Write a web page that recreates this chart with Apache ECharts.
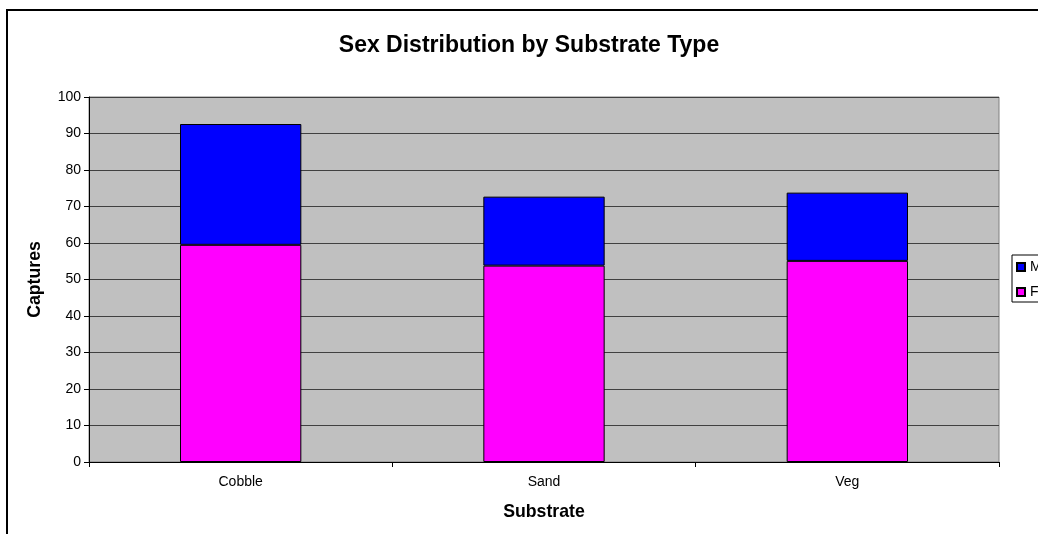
<!DOCTYPE html>
<html><head><meta charset="utf-8">
<script src="https://cdn.jsdelivr.net/npm/echarts@6/dist/echarts.min.js"></script>
<style>html,body{margin:0;padding:0;background:#fff;}#c{width:1038px;height:534px;}</style>
</head><body><div id="c"></div>
<script>
const categories = ['Cobble', 'Sand', 'Veg'];
const femaleValues = [59.5, 53.8, 55.1];
const maleValues = [33.1, 18.9, 18.7];
const seriesNames = ['Male', 'Female'];

const chart = echarts.init(document.getElementById('c'));
const font = 'Liberation Sans, Arial, sans-serif';
chart.setOption({
  animation: false,
  backgroundColor: '#ffffff',
  title: {
    text: 'Sex Distribution by Substrate Type',
    left: 529, top: 34, textAlign: 'center', padding: 0,
    textStyle: { fontFamily: font, fontSize: 23, fontWeight: 'bold', color: '#000' }
  },
  graphic: [{
    type: 'rect', shape: { x: 7, y: 10, width: 1100, height: 600 },
    style: { fill: 'none', stroke: '#000', lineWidth: 2 }, silent: true, z: -1
  }],
  legend: {
    data: seriesNames,
    orient: 'vertical',
    left: 1012, top: 255,
    padding: [5, 5, 3, 4],
    itemGap: 11,
    itemWidth: 8, itemHeight: 8,
    icon: 'rect',
    borderColor: '#000', borderWidth: 1,
    backgroundColor: '#fff',
    textStyle: { fontFamily: font, fontSize: 14, color: '#000' }
  },
  grid: {
    left: 89, right: 39, top: 97, bottom: 72,
    show: true, backgroundColor: '#C0C0C0', borderColor: '#808080', borderWidth: 1
  },
  xAxis: {
    type: 'category', data: categories,
    name: 'Substrate', nameLocation: 'middle', nameGap: 41,
    nameTextStyle: { fontFamily: font, fontSize: 17.7, fontWeight: 'bold', color: '#000' },
    axisLine: { lineStyle: { color: '#000', width: 1 } },
    axisTick: { show: true, length: 5, lineStyle: { color: '#000' } },
    axisLabel: { fontFamily: font, fontSize: 14, color: '#000', margin: 13 },
    splitLine: { show: false }
  },
  yAxis: {
    type: 'value', min: 0, max: 100, interval: 10,
    name: 'Captures', nameLocation: 'middle', nameGap: 45, nameRotate: 90,
    nameTextStyle: { fontFamily: font, fontSize: 17.7, fontWeight: 'bold', color: '#000' },
    axisLine: { show: true, lineStyle: { color: '#000', width: 1 } },
    axisTick: { show: true, length: 5, lineStyle: { color: '#000' } },
    axisLabel: { fontFamily: font, fontSize: 14, color: '#000', margin: 8 },
    splitLine: { show: true, lineStyle: { color: '#404040', width: 1 } }
  },
  series: [
    {
      name: 'Female', type: 'bar', stack: 'total', data: femaleValues,
      barCategoryGap: '60%',
      itemStyle: { color: '#FF00FF', borderColor: '#000', borderWidth: 1 }
    },
    {
      name: 'Male', type: 'bar', stack: 'total', data: maleValues,
      barCategoryGap: '60%',
      itemStyle: { color: '#0000FF', borderColor: '#000', borderWidth: 1 }
    }
  ]
});
</script></body></html>
